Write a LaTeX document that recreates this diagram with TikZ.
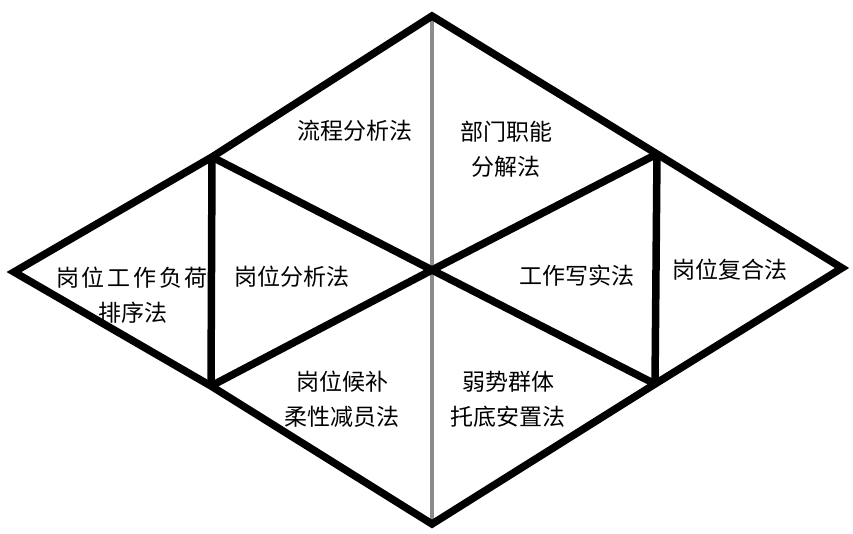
\documentclass[tikz,border=0pt]{standalone}
\usepackage{fontspec}
\newfontfamily\cjk{Noto Sans CJK SC}
\newfontfamily\cjkwide[LetterSpace=12]{Noto Sans CJK SC}
\begin{document}
\begin{tikzpicture}[x=1pt,y=-1pt,
  thick line/.style={line width=7.5pt,black,line join=miter},
  mid line/.style={line width=4pt,black!45},
  lbl/.style={font=\cjk\fontsize{23pt}{35pt}\selectfont,align=center,inner sep=0pt}]
\useasboundingbox (0,0) rectangle (853,533);
\fill[white] (0,0) rectangle (853,533);
\coordinate (L) at (14,272);
\coordinate (UL) at (212,157);
\coordinate (T) at (432,16);
\coordinate (UR) at (657,154);
\coordinate (R) at (842,268);
\coordinate (LR) at (655,384);
\coordinate (B) at (432,524);
\coordinate (LL) at (211,386);
\coordinate (C) at (432,270);
\draw[mid line] (T) -- (B);
\draw[thick line] (L) -- (UL) -- (T) -- (UR) -- (R) -- (LR) -- (B) -- (LL) -- cycle;
\draw[thick line] (UL) -- (LL);
\draw[thick line] (UR) -- (LR);
\draw[thick line] (UL) -- (C) -- (LR);
\draw[thick line] (LL) -- (C) -- (UR);
\node[lbl] (n1) at (355,131) {流程分析法};
\node[lbl] (n2) at (506,149) {部门职能\\分解法};
\node[lbl,align=left] (n3) at (132,295) {{\cjkwide 岗位工作负荷}\\\hspace*{42pt}排序法};
\node[lbl] (n4) at (292,277) {岗位分析法};
\node[lbl] (n5) at (577,276) {工作写实法};
\node[lbl] (n6) at (730,270) {岗位复合法};
\node[lbl] (n7) at (342,399) {岗位候补\\柔性减员法};
\node[lbl] (n8) at (508,399) {弱势群体\\托底安置法};
\end{tikzpicture}
\end{document}
